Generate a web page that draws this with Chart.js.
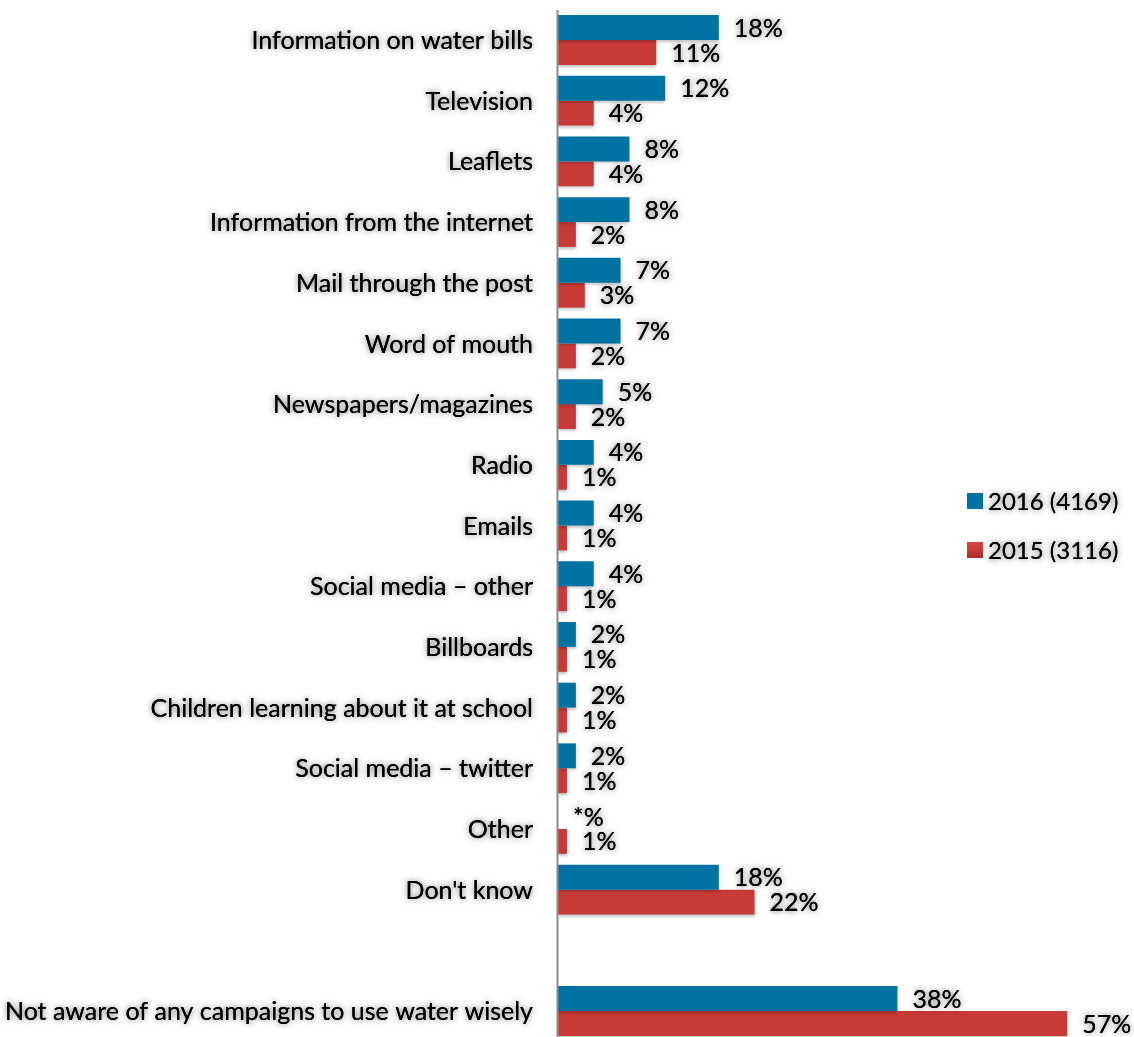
<!DOCTYPE html>
<html>
<head>
<meta charset="utf-8">
<script src="https://cdn.jsdelivr.net/npm/chart.js@4"></script>
<style>
  html, body { margin: 0; padding: 0; background: #fff; }
  #wrap { width: 1134px; height: 1037px; position: relative; }
</style>
</head>
<body>
<div id="wrap"><canvas id="chart"></canvas></div>
<script>
'use strict';

const categories = [
  'Information on water bills',
  'Television',
  'Leaflets',
  'Information from the internet',
  'Mail through the post',
  'Word of mouth',
  'Newspapers/magazines',
  'Radio',
  'Emails',
  'Social media \u2013 other',
  'Billboards',
  'Children learning about it at school',
  'Social media \u2013 twitter',
  'Other',
  'Don\'t know',
  '',
  'Not aware of any campaigns to use water wisely',
];
// '*' marks a value below 0.5%
const values2016 = [18, 12, 8, 8, 7, 7, 5, 4, 4, 4, 2, 2, 2, 0, 18, null, 38];
const labels2016 = ['18', '12', '8', '8', '7', '7', '5', '4', '4', '4', '2', '2', '2', '*', '18', '', '38'];
const values2015 = [11, 4, 4, 2, 3, 2, 2, 1, 1, 1, 1, 1, 1, 1, 22, null, 57];
const legendLabels = ['2016 (4169)', '2015 (3116)'];

const FONT = 'Lato, Calibri, Carlito, sans-serif';
const BLUE = '#0073a3';

function redGradient(ctx, top, bottom) {
  const g = ctx.createLinearGradient(0, top, 0, bottom);
  g.addColorStop(0, '#d44442');
  g.addColorStop(0.5, '#c83c3a');
  g.addColorStop(1, '#a32b2b');
  return g;
}

function redFill(context) {
  const el = context.element;
  if (!el || el.y === undefined) return '#c83a38';
  const h = el.height || 25;
  return redGradient(context.chart.ctx, el.y - h / 2, el.y + h / 2);
}

// text with a soft grey halo round it
function haloText(ctx, text, x, y) {
  ctx.save();
  ctx.shadowColor = 'rgba(0,0,0,0.6)';
  ctx.shadowBlur = 6;
  ctx.shadowOffsetX = 0;
  ctx.shadowOffsetY = 0;
  ctx.fillText(text, x, y);
  ctx.shadowColor = 'transparent';
  ctx.fillText(text, x, y);
  ctx.restore();
}

const overlay = {
  id: 'overlay',
  beforeDatasetsDraw(chart) {
    chart.ctx.save();
    chart.ctx.shadowColor = 'rgba(0,0,0,0.25)';
    chart.ctx.shadowBlur = 3;
    chart.ctx.shadowOffsetY = 2;
  },
  afterDatasetsDraw(chart) {
    const ctx = chart.ctx;
    ctx.restore();
    const area = chart.chartArea;

    // vertical axis line
    const left = Math.round(area.left) - 0.5;
    ctx.save();
    ctx.strokeStyle = '#8c8c8c';
    ctx.lineWidth = 2;
    ctx.beginPath();
    ctx.moveTo(left, area.top - 30);
    ctx.lineTo(left, chart.height);
    ctx.stroke();
    ctx.restore();

    ctx.save();
    ctx.fillStyle = '#000';
    ctx.textBaseline = 'middle';

    // category labels
    const yScale = chart.scales.y;
    ctx.font = '25px ' + FONT;
    ctx.textAlign = 'right';
    yScale.getLabels().forEach((name, i) => {
      if (!name) return;
      haloText(ctx, name, area.left - 25, yScale.getPixelForTick(i) + 1);
    });

    // value labels
    ctx.textAlign = 'left';
    const sets = [labels2016, values2015.map(v => v === null ? '' : String(v))];
    sets.forEach((texts, di) => {
      chart.getDatasetMeta(di).data.forEach((bar, i) => {
        if (!texts[i]) return;
        haloText(ctx, texts[i] + '%', bar.x + 15, bar.y + 1);
      });
    });

    // legend
    ctx.font = '24px ' + FONT;
    [501, 550].forEach((y, i) => {
      ctx.fillStyle = i === 0 ? BLUE : redGradient(ctx, y - 8, y + 8);
      ctx.fillRect(967, y - 8, 16, 16);
      ctx.fillStyle = '#000';
      haloText(ctx, legendLabels[i], 988, y + 1);
    });
    ctx.restore();
  },
};

const chart = new Chart(document.getElementById('chart'), {
  type: 'bar',
  data: {
    labels: categories,
    datasets: [
      {
        label: legendLabels[0],
        data: values2016,
        backgroundColor: BLUE,
        categoryPercentage: 0.82,
        barPercentage: 1,
        clip: false,
      },
      {
        label: legendLabels[1],
        data: values2015,
        backgroundColor: redFill,
        categoryPercentage: 0.82,
        barPercentage: 1,
        clip: false,
      },
    ],
  },
  options: {
    indexAxis: 'y',
    responsive: true,
    maintainAspectRatio: false,
    animation: false,
    layout: { padding: { top: 40, bottom: 26, left: 0, right: 40 } },
    plugins: {
      legend: { display: false },
      tooltip: { enabled: false },
    },
    scales: {
      x: {
        display: false,
        min: 0,
        max: 60,
      },
      y: {
        offset: false,
        grid: { display: false },
        border: { display: false },
        ticks: { display: false },
        afterFit(scale) {
          scale.width = 558;
        },
      },
    },
  },
  plugins: [overlay],
});
</script>
</body>
</html>
